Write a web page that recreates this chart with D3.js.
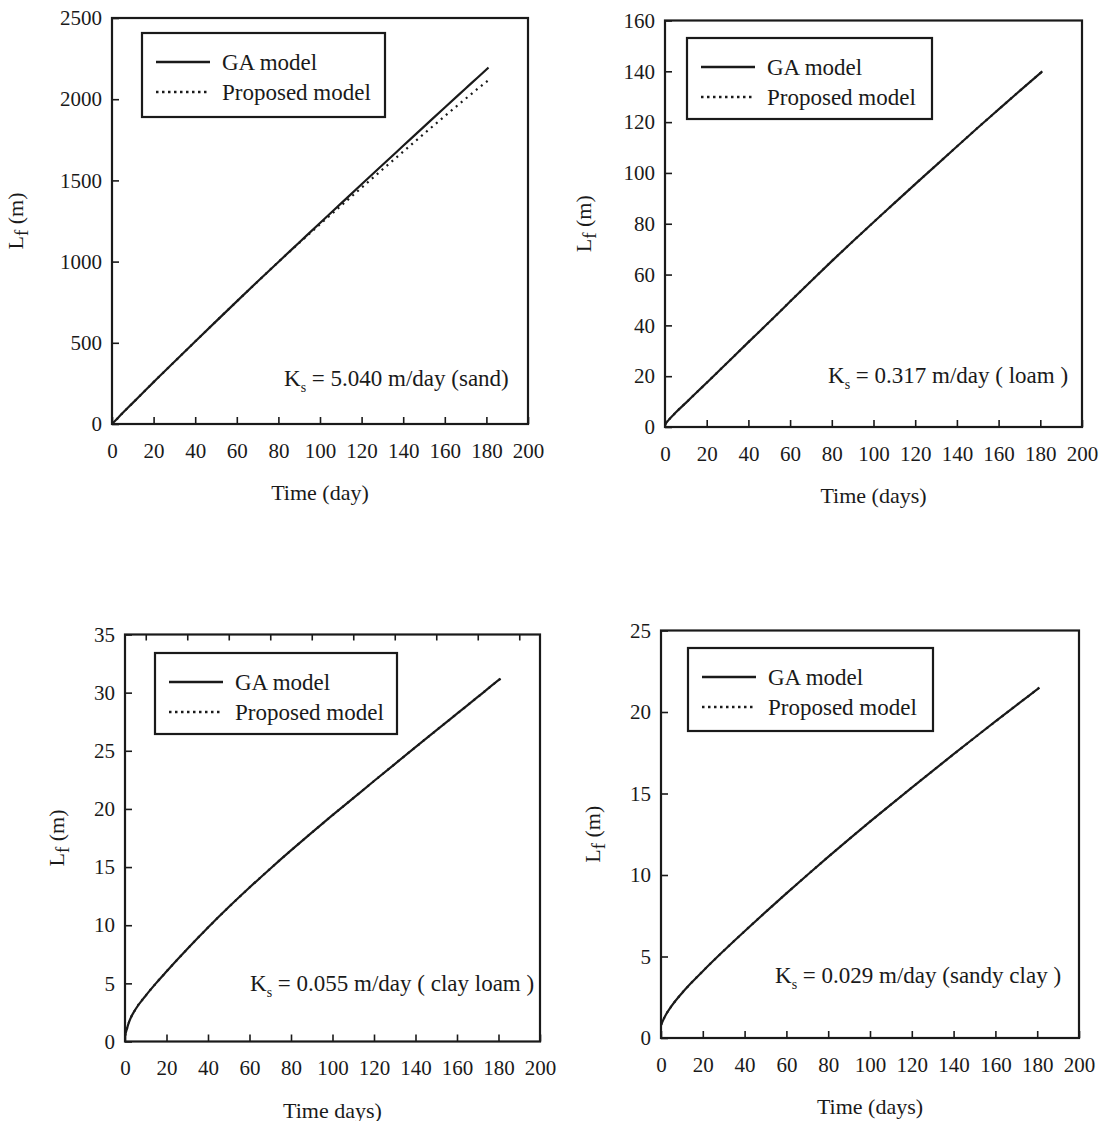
<!DOCTYPE html>
<html>
<head>
<meta charset="utf-8">
<script src="https://cdn.jsdelivr.net/npm/d3@7"></script>
<style>
  body { margin: 0; background: #fff; }
  svg text { font-family: "Liberation Serif", "Times New Roman", serif; fill: #1a1a1a; }
</style>
</head>
<body>
<div id="chart"></div>
<script>
// sample times (days), shared by every panel
const days = [0, 2, 5, 10, 15, 20, 30, 40, 50, 60, 70, 80, 90, 100, 110, 120, 130, 140, 150, 160, 170, 180, 181];

// sand, Ks = 5.040 m/day
const sandGA       = [0, 26, 66, 130, 194, 258, 383, 508, 632, 755, 877, 998, 1118, 1238, 1357, 1476, 1595, 1713, 1831, 1949, 2066, 2183, 2195];
const sandProposed = [0, 26, 66, 130, 194, 258, 383, 508, 632, 755, 877, 998, 1115, 1230, 1343, 1455, 1567, 1677, 1787, 1896, 2003, 2107, 2117];

// loam, Ks = 0.317 m/day
const loamGA       = [1.0, 3.0, 5.6, 9.5, 13.5, 17.4, 25.4, 33.4, 41.3, 49.4, 57.4, 65.3, 73.0, 80.6, 88.1, 95.6, 103.0, 110.4, 117.8, 125.0, 132.2, 139.3, 140.0];
const loamProposed = [1.0, 3.0, 5.6, 9.5, 13.5, 17.4, 25.4, 33.4, 41.3, 49.4, 57.4, 65.3, 73.0, 80.6, 88.1, 95.6, 103.0, 110.4, 117.8, 125.0, 132.2, 139.3, 140.0];

// clay loam, Ks = 0.055 m/day
const clayLoamGA       = [0.5, 1.7, 2.75, 3.95, 5.02, 6.02, 7.95, 9.8, 11.56, 13.24, 14.86, 16.43, 17.96, 19.46, 20.93, 22.4, 23.86, 25.31, 26.75, 28.19, 29.63, 31.07, 31.21];
const clayLoamProposed = [0.5, 1.7, 2.75, 3.95, 5.02, 6.02, 7.95, 9.8, 11.56, 13.24, 14.86, 16.43, 17.96, 19.46, 20.93, 22.4, 23.86, 25.31, 26.75, 28.19, 29.63, 31.07, 31.21];

// sandy clay, Ks = 0.029 m/day
const sandyClayGA       = [0.8, 1.35, 1.95, 2.75, 3.45, 4.1, 5.35, 6.55, 7.72, 8.87, 10.0, 11.11, 12.2, 13.27, 14.32, 15.36, 16.39, 17.41, 18.42, 19.42, 20.41, 21.39, 21.49];
const sandyClayProposed = [0.8, 1.35, 1.95, 2.75, 3.45, 4.1, 5.35, 6.55, 7.72, 8.87, 10.0, 11.11, 12.2, 13.27, 14.32, 15.36, 16.39, 17.41, 18.42, 19.42, 20.41, 21.39, 21.49];

// tick labels
const xTicks = [0, 20, 40, 60, 80, 100, 120, 140, 160, 180, 200];
const topTicks3 = [10, 30, 50, 70, 90, 110, 130, 150, 170, 190];
const yTicksSand = [0, 500, 1000, 1500, 2000, 2500];
const yTicksLoam = [0, 20, 40, 60, 80, 100, 120, 140, 160];
const yTicksClayLoam = [0, 5, 10, 15, 20, 25, 30, 35];
const yTicksSandyClay = [0, 5, 10, 15, 20, 25];

const legendNames = ["GA model", "Proposed model"];
const annotations = [
  ["5.040", "(sand)"],
  ["0.317", "( loam )"],
  ["0.055", "( clay loam )"],
  ["0.029", "(sandy clay )"]
];
const xTitles = ["Time (day)", "Time (days)", "Time days)", "Time (days)"];

const width = 1102, height = 1121;
const serif = '"Liberation Serif", "Times New Roman", serif';
const ink = '#1a1a1a';

// layout of each panel (pixels)
const panels = [
  { ga: sandGA, pr: sandProposed, yMax: 2500, yTicks: yTicksSand,
    x0: 112, x1: 528, yTop: 18, yBot: 424,
    leg: { x: 142, y: 33, w: 243, h: 84 }, ann: { x: 284, y: 386 }, yLab: 16 },
  { ga: loamGA, pr: loamProposed, yMax: 160, yTicks: yTicksLoam,
    x0: 665, x1: 1082, yTop: 20.5, yBot: 427,
    leg: { x: 687, y: 38, w: 245, h: 81 }, ann: { x: 828, y: 383 }, yLab: 584 },
  { ga: clayLoamGA, pr: clayLoamProposed, yMax: 35, yTicks: yTicksClayLoam,
    x0: 125, x1: 540, yTop: 634.5, yBot: 1041.5, top: topTicks3,
    leg: { x: 155, y: 653, w: 242, h: 81 }, ann: { x: 250, y: 991 }, yLab: 57 },
  { ga: sandyClayGA, pr: sandyClayProposed, yMax: 25, yTicks: yTicksSandyClay,
    x0: 661, x1: 1079, yTop: 630.5, yBot: 1038,
    leg: { x: 688, y: 648, w: 245, h: 83 }, ann: { x: 775, y: 983 }, yLab: 593 }
];

const svg = d3.select('#chart')
  .append('svg')
  .attr('width', width)
  .attr('height', height);

svg.append('rect').attr('width', width).attr('height', height).attr('fill', '#fff');

panels.forEach((p, i) => {
  const g = svg.append('g');

  const x = d3.scaleLinear().domain([0, 200]).range([p.x0, p.x1]);
  const y = d3.scaleLinear().domain([0, p.yMax]).range([p.yBot, p.yTop]);

  // x axis
  g.append('g')
    .attr('transform', `translate(0,${p.yBot})`)
    .call(d3.axisBottom(x).tickValues(xTicks).tickFormat(d3.format('d'))
      .tickSizeInner(-7).tickSizeOuter(0).tickPadding(19));
  // y axis
  g.append('g')
    .attr('transform', `translate(${p.x0},0)`)
    .call(d3.axisLeft(y).tickValues(p.yTicks).tickFormat(d3.format('d'))
      .tickSizeInner(-7).tickSizeOuter(0).tickPadding(10));

  if (p.top) {
    g.append('g')
      .attr('transform', `translate(0,${p.yTop})`)
      .call(d3.axisTop(x).tickValues(p.top).tickSizeInner(-6).tickSizeOuter(0).tickFormat(''));
  }

  g.selectAll('.domain').remove();
  g.selectAll('g').attr('font-family', serif).attr('font-size', 21);
  g.selectAll('.tick line').attr('stroke', ink).attr('stroke-width', 1.6);
  g.selectAll('.tick text').attr('fill', ink).style('font-family', serif).style('font-size', '21px');

  // frame
  g.append('rect')
    .attr('x', p.x0).attr('y', p.yTop)
    .attr('width', p.x1 - p.x0).attr('height', p.yBot - p.yTop)
    .attr('fill', 'none').attr('stroke', ink).attr('stroke-width', 2.2);

  const line = d3.line()
    .x((d, j) => x(days[j]))
    .y(d => y(d))
    .curve(d3.curveMonotoneX);

  g.append('path')
    .datum(p.pr)
    .attr('d', line)
    .attr('fill', 'none')
    .attr('stroke', ink)
    .attr('stroke-width', 2.2)
    .attr('stroke-dasharray', '2,4.5');

  g.append('path')
    .datum(p.ga)
    .attr('d', line)
    .attr('fill', 'none')
    .attr('stroke', ink)
    .attr('stroke-width', 2.2);

  // legend
  const L = p.leg;
  g.append('rect')
    .attr('x', L.x).attr('y', L.y).attr('width', L.w).attr('height', L.h)
    .attr('fill', '#fff').attr('stroke', ink).attr('stroke-width', 2.2);
  legendNames.forEach((name, k) => {
    const ly = L.y + 29 + k * 30;
    g.append('line')
      .attr('x1', L.x + 14).attr('x2', L.x + 68)
      .attr('y1', ly).attr('y2', ly)
      .attr('stroke', ink).attr('stroke-width', 2.4)
      .attr('stroke-dasharray', k === 0 ? null : '2.5,3.5');
    g.append('text')
      .attr('x', L.x + 80).attr('y', ly + 7.5)
      .attr('font-size', 23)
      .text(name);
  });

  // Ks annotation
  const a = g.append('text')
    .attr('x', p.ann.x).attr('y', p.ann.y)
    .attr('font-size', 23);
  a.append('tspan').text('K');
  a.append('tspan').attr('font-size', 14).attr('dy', 6).text('s');
  a.append('tspan').attr('dy', -6).text(` = ${annotations[i][0]} m/day ${annotations[i][1]}`);

  // axis titles
  g.append('text')
    .attr('x', (p.x0 + p.x1) / 2).attr('y', p.yBot + 76)
    .attr('text-anchor', 'middle')
    .attr('font-size', 22)
    .text(xTitles[i]);

  const yl = g.append('text')
    .attr('transform', `translate(${p.yLab + 7},${(p.yTop + p.yBot) / 2}) rotate(-90)`)
    .attr('text-anchor', 'middle')
    .attr('font-size', 22);
  yl.append('tspan').text('L');
  yl.append('tspan').attr('font-size', 19).attr('dy', 5).text('f');
  yl.append('tspan').attr('dy', -5).text(' (m)');
});
</script>
</body>
</html>
